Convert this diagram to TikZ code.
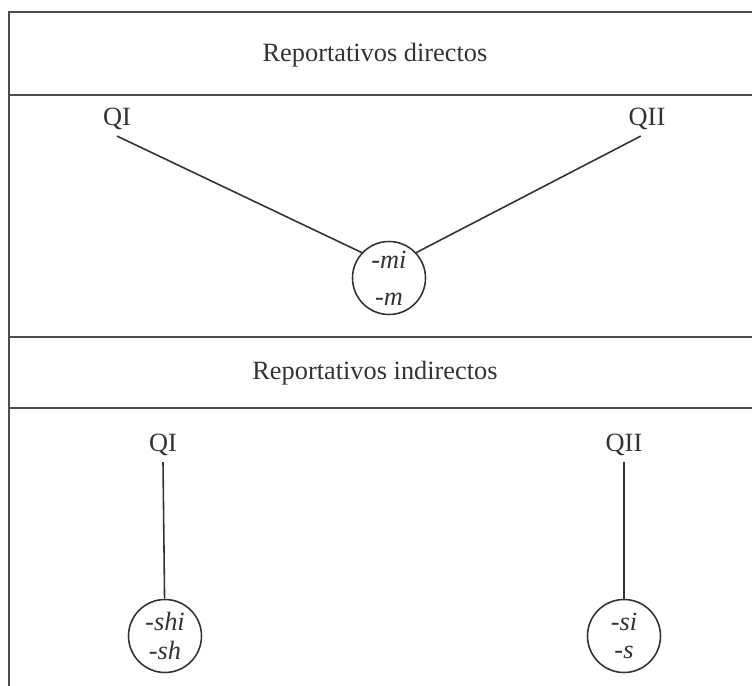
\documentclass[tikz,border=0pt]{standalone}
\usepackage{tikz}
\usepackage{fontspec}
\setmainfont{Liberation Serif}

\begin{document}
\begin{tikzpicture}[x=0.02cm,y=-0.02cm,
  every node/.style={font=\fontsize{15}{17}\selectfont,text=black!80},
  suffix/.style={draw=black!80,line width=0.9pt,circle,minimum size=1.46cm,inner sep=0pt,
    align=center,font=\fontsize{15}{16}\selectfont\itshape},
  rule/.style={line width=1.3pt,black!70},
  link/.style={line width=0.9pt,black!80}]
  \useasboundingbox (0,0) rectangle (752,686);
  % frame, open to the right and below
  \draw[rule] (752,12) -- (9,12) -- (9,686);
  \draw[rule] (9,95) -- (752,95);
  \draw[rule] (9,337) -- (752,337);
  \draw[rule] (9,408) -- (752,408);

  % direct reportatives
  \node (direct) at (375,55) {Reportativos directos};
  \node (qa) at (117,119) {QI};
  \node (qb) at (647,119) {QII};
  \node[suffix] (mi) at (389,278) {-mi\\[5pt]-m};
  \draw[link] (qa.south) -- (mi.137);
  \draw[link] (qb.250) -- (mi.43);

  % indirect reportatives
  \node (indirect) at (375,373) {Reportativos indirectos};
  \node (qc) at (163,445) {QI};
  \node (qd) at (624,445) {QII};
  \node[suffix] (shi) at (165,636) {-shi\\-sh};
  \node[suffix] (si) at (624,636) {-si\\-s};
  \draw[link] (qc.south) -- (shi);
  \draw[link] (qd.south) -- (si);
\end{tikzpicture}
\end{document}
